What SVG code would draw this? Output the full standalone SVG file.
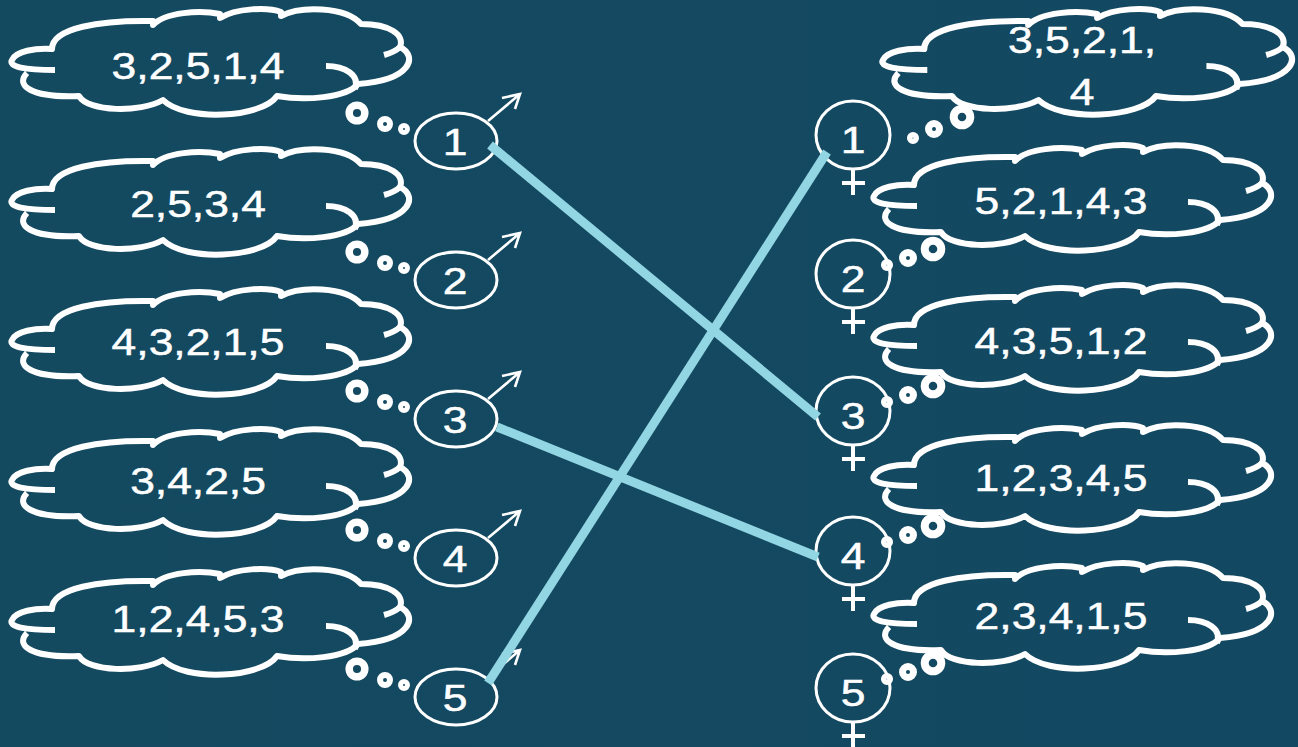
<svg xmlns="http://www.w3.org/2000/svg" xmlns:xlink="http://www.w3.org/1999/xlink" width="1298" height="747" viewBox="0 0 1298 747">
  <defs>
    <linearGradient id="bg" x1="0" y1="0" x2="1" y2="0">
      <stop offset="0" stop-color="#144a60"/>
      <stop offset="1" stop-color="#134862"/>
    </linearGradient>
    <!-- thought cloud outline, text centre at (197,65) -->
    <g id="cloud" fill="none" stroke="#fff" stroke-width="6" stroke-linecap="butt" stroke-linejoin="round">
      <path d="M 55,70 C 25,70 8,67 12,60 C 16,51 35,48 52,49 C 52,28 100,20 153,21 L 153,25 C 165,12 200,10 220,14 L 220,18 C 236,8 268,7 281,12 L 281,16 C 300,6 345,6 361,24 C 390,24 405,35 400,47 C 418,56 412,80 358,84 C 346,98 305,101 277,96 C 262,118 185,122 163,100 C 140,113 88,112 79,96 C 30,98 15,85 27,73"/>
      <path d="M 326,66 C 345,66 360,75 355,89"/>
      <path d="M 400,47 Q 395,52 384,55"/>
    </g>
    <!-- trailing bubbles, left side -->
    <g id="dotsL" fill="none" stroke="#fff">
      <circle cx="357" cy="-28" r="7.8" stroke-width="7.5"/>
      <circle cx="385" cy="-17" r="5" stroke-width="6"/>
      <circle cx="404" cy="-12" r="3.5" stroke-width="5"/>
    </g>
    <!-- trailing bubbles, right side -->
    <g id="dotsR" fill="none" stroke="#fff">
      <circle cx="933" cy="-25" r="8.3" stroke-width="8"/>
      <circle cx="908" cy="-16" r="5.5" stroke-width="7"/>
      <circle cx="887" cy="-9" r="3.3" stroke-width="5.5"/>
    </g>
    <!-- male symbol, centred on y=0 -->
    <g id="male" fill="none" stroke="#fff" stroke-width="3">
      <ellipse cx="456" cy="0" rx="41" ry="28"/>
      <path d="M 488,-20 L 520,-47 M 502,-43 L 520,-47 L 515,-32" stroke-width="2.6" stroke-linejoin="miter"/>
    </g>
    <!-- female symbol, centred on y=0 -->
    <g id="female" fill="none" stroke="#fff" stroke-width="3">
      <ellipse cx="853" cy="0" rx="37" ry="34"/>
      <path d="M 853,34 V 60 M 842,48 H 865" stroke-width="4"/>
    </g>
  </defs>
  <style>
    .lbl { font-family: "Liberation Sans", Arial, sans-serif; font-size: 37px; fill: #fff; stroke: #fff; stroke-width: 0.5; text-anchor: middle; }
    .link { stroke: #93d6e3; stroke-width: 9; stroke-linecap: butt; fill: none; }
  </style>

  <rect width="1298" height="747" fill="url(#bg)"/>

  <!-- men: preference clouds -->
  <g id="man-1">
    <use xlink:href="#cloud"/>
    <text class="lbl" transform="translate(198,78.5) scale(1.2,1)">3,2,5,1,4</text>
    <use xlink:href="#dotsL" transform="translate(0,141)"/>
    <use xlink:href="#male" transform="translate(0,141)"/>
    <text class="lbl" transform="translate(455,154.5) scale(1.2,1)">1</text>
  </g>
  <g id="man-2">
    <use xlink:href="#cloud" transform="translate(0,140)"/>
    <text class="lbl" transform="translate(198,216.5) scale(1.2,1)">2,5,3,4</text>
    <use xlink:href="#dotsL" transform="translate(0,280)"/>
    <use xlink:href="#male" transform="translate(0,280)"/>
    <text class="lbl" transform="translate(455,293.5) scale(1.2,1)">2</text>
  </g>
  <g id="man-3">
    <use xlink:href="#cloud" transform="translate(0,280)"/>
    <text class="lbl" transform="translate(198,355) scale(1.2,1)">4,3,2,1,5</text>
    <use xlink:href="#dotsL" transform="translate(0,419)"/>
    <use xlink:href="#male" transform="translate(0,419)"/>
    <text class="lbl" transform="translate(455,432.5) scale(1.2,1)">3</text>
  </g>
  <g id="man-4">
    <use xlink:href="#cloud" transform="translate(0,420)"/>
    <text class="lbl" transform="translate(198,493.5) scale(1.2,1)">3,4,2,5</text>
    <use xlink:href="#dotsL" transform="translate(0,558)"/>
    <use xlink:href="#male" transform="translate(0,558)"/>
    <text class="lbl" transform="translate(455,571.5) scale(1.2,1)">4</text>
  </g>
  <g id="man-5">
    <use xlink:href="#cloud" transform="translate(0,560)"/>
    <text class="lbl" transform="translate(198,632) scale(1.2,1)">1,2,4,5,3</text>
    <use xlink:href="#dotsL" transform="translate(0,697)"/>
    <use xlink:href="#male" transform="translate(0,697)"/>
    <text class="lbl" transform="translate(455,710.5) scale(1.2,1)">5</text>
  </g>

  <!-- women: preference clouds -->
  <g id="woman-1">
    <use xlink:href="#cloud" transform="translate(883,0) scale(1.03,1) translate(-12,0)"/>
    <text class="lbl" transform="translate(1082,52.5) scale(1.2,1)">3,5,2,1,</text>
    <text class="lbl" transform="translate(1082,104.5) scale(1.2,1)">4</text>
    <g fill="none" stroke="#fff">
      <circle cx="962" cy="117" r="8.3" stroke-width="8"/>
      <circle cx="934" cy="129" r="5.5" stroke-width="7"/>
      <circle cx="913" cy="138" r="3.3" stroke-width="5.5"/>
    </g>
    <use xlink:href="#female" transform="translate(0,135)"/>
    <text class="lbl" transform="translate(853,153) scale(1.2,1)">1</text>
  </g>
  <g id="woman-2">
    <use xlink:href="#cloud" transform="translate(862,136)"/>
    <text class="lbl" transform="translate(1061,213.5) scale(1.2,1)">5,2,1,4,3</text>
    <use xlink:href="#dotsR" transform="translate(0,274)"/>
    <use xlink:href="#female" transform="translate(0,274)"/>
    <text class="lbl" transform="translate(853,292) scale(1.2,1)">2</text>
  </g>
  <g id="woman-3">
    <use xlink:href="#cloud" transform="translate(862,276)"/>
    <text class="lbl" transform="translate(1061,353.5) scale(1.2,1)">4,3,5,1,2</text>
    <use xlink:href="#dotsR" transform="translate(0,411)"/>
    <use xlink:href="#female" transform="translate(0,411)"/>
    <text class="lbl" transform="translate(853,429) scale(1.2,1)">3</text>
  </g>
  <g id="woman-4">
    <use xlink:href="#cloud" transform="translate(862,416)"/>
    <text class="lbl" transform="translate(1061,490.5) scale(1.2,1)">1,2,3,4,5</text>
    <use xlink:href="#dotsR" transform="translate(0,551)"/>
    <use xlink:href="#female" transform="translate(0,551)"/>
    <text class="lbl" transform="translate(853,569) scale(1.2,1)">4</text>
  </g>
  <g id="woman-5">
    <use xlink:href="#cloud" transform="translate(862,554)"/>
    <text class="lbl" transform="translate(1061,628.5) scale(1.2,1)">2,3,4,1,5</text>
    <use xlink:href="#dotsR" transform="translate(0,688)"/>
    <use xlink:href="#female" transform="translate(0,688)"/>
    <text class="lbl" transform="translate(853,706) scale(1.2,1)">5</text>
  </g>

  <!-- matching -->
  <g id="connectors">
    <line class="link" x1="490" y1="145" x2="818" y2="417"/>
    <line class="link" x1="497" y1="427" x2="818" y2="557"/>
    <line class="link" x1="488" y1="683" x2="827" y2="152"/>
  </g>
</svg>
